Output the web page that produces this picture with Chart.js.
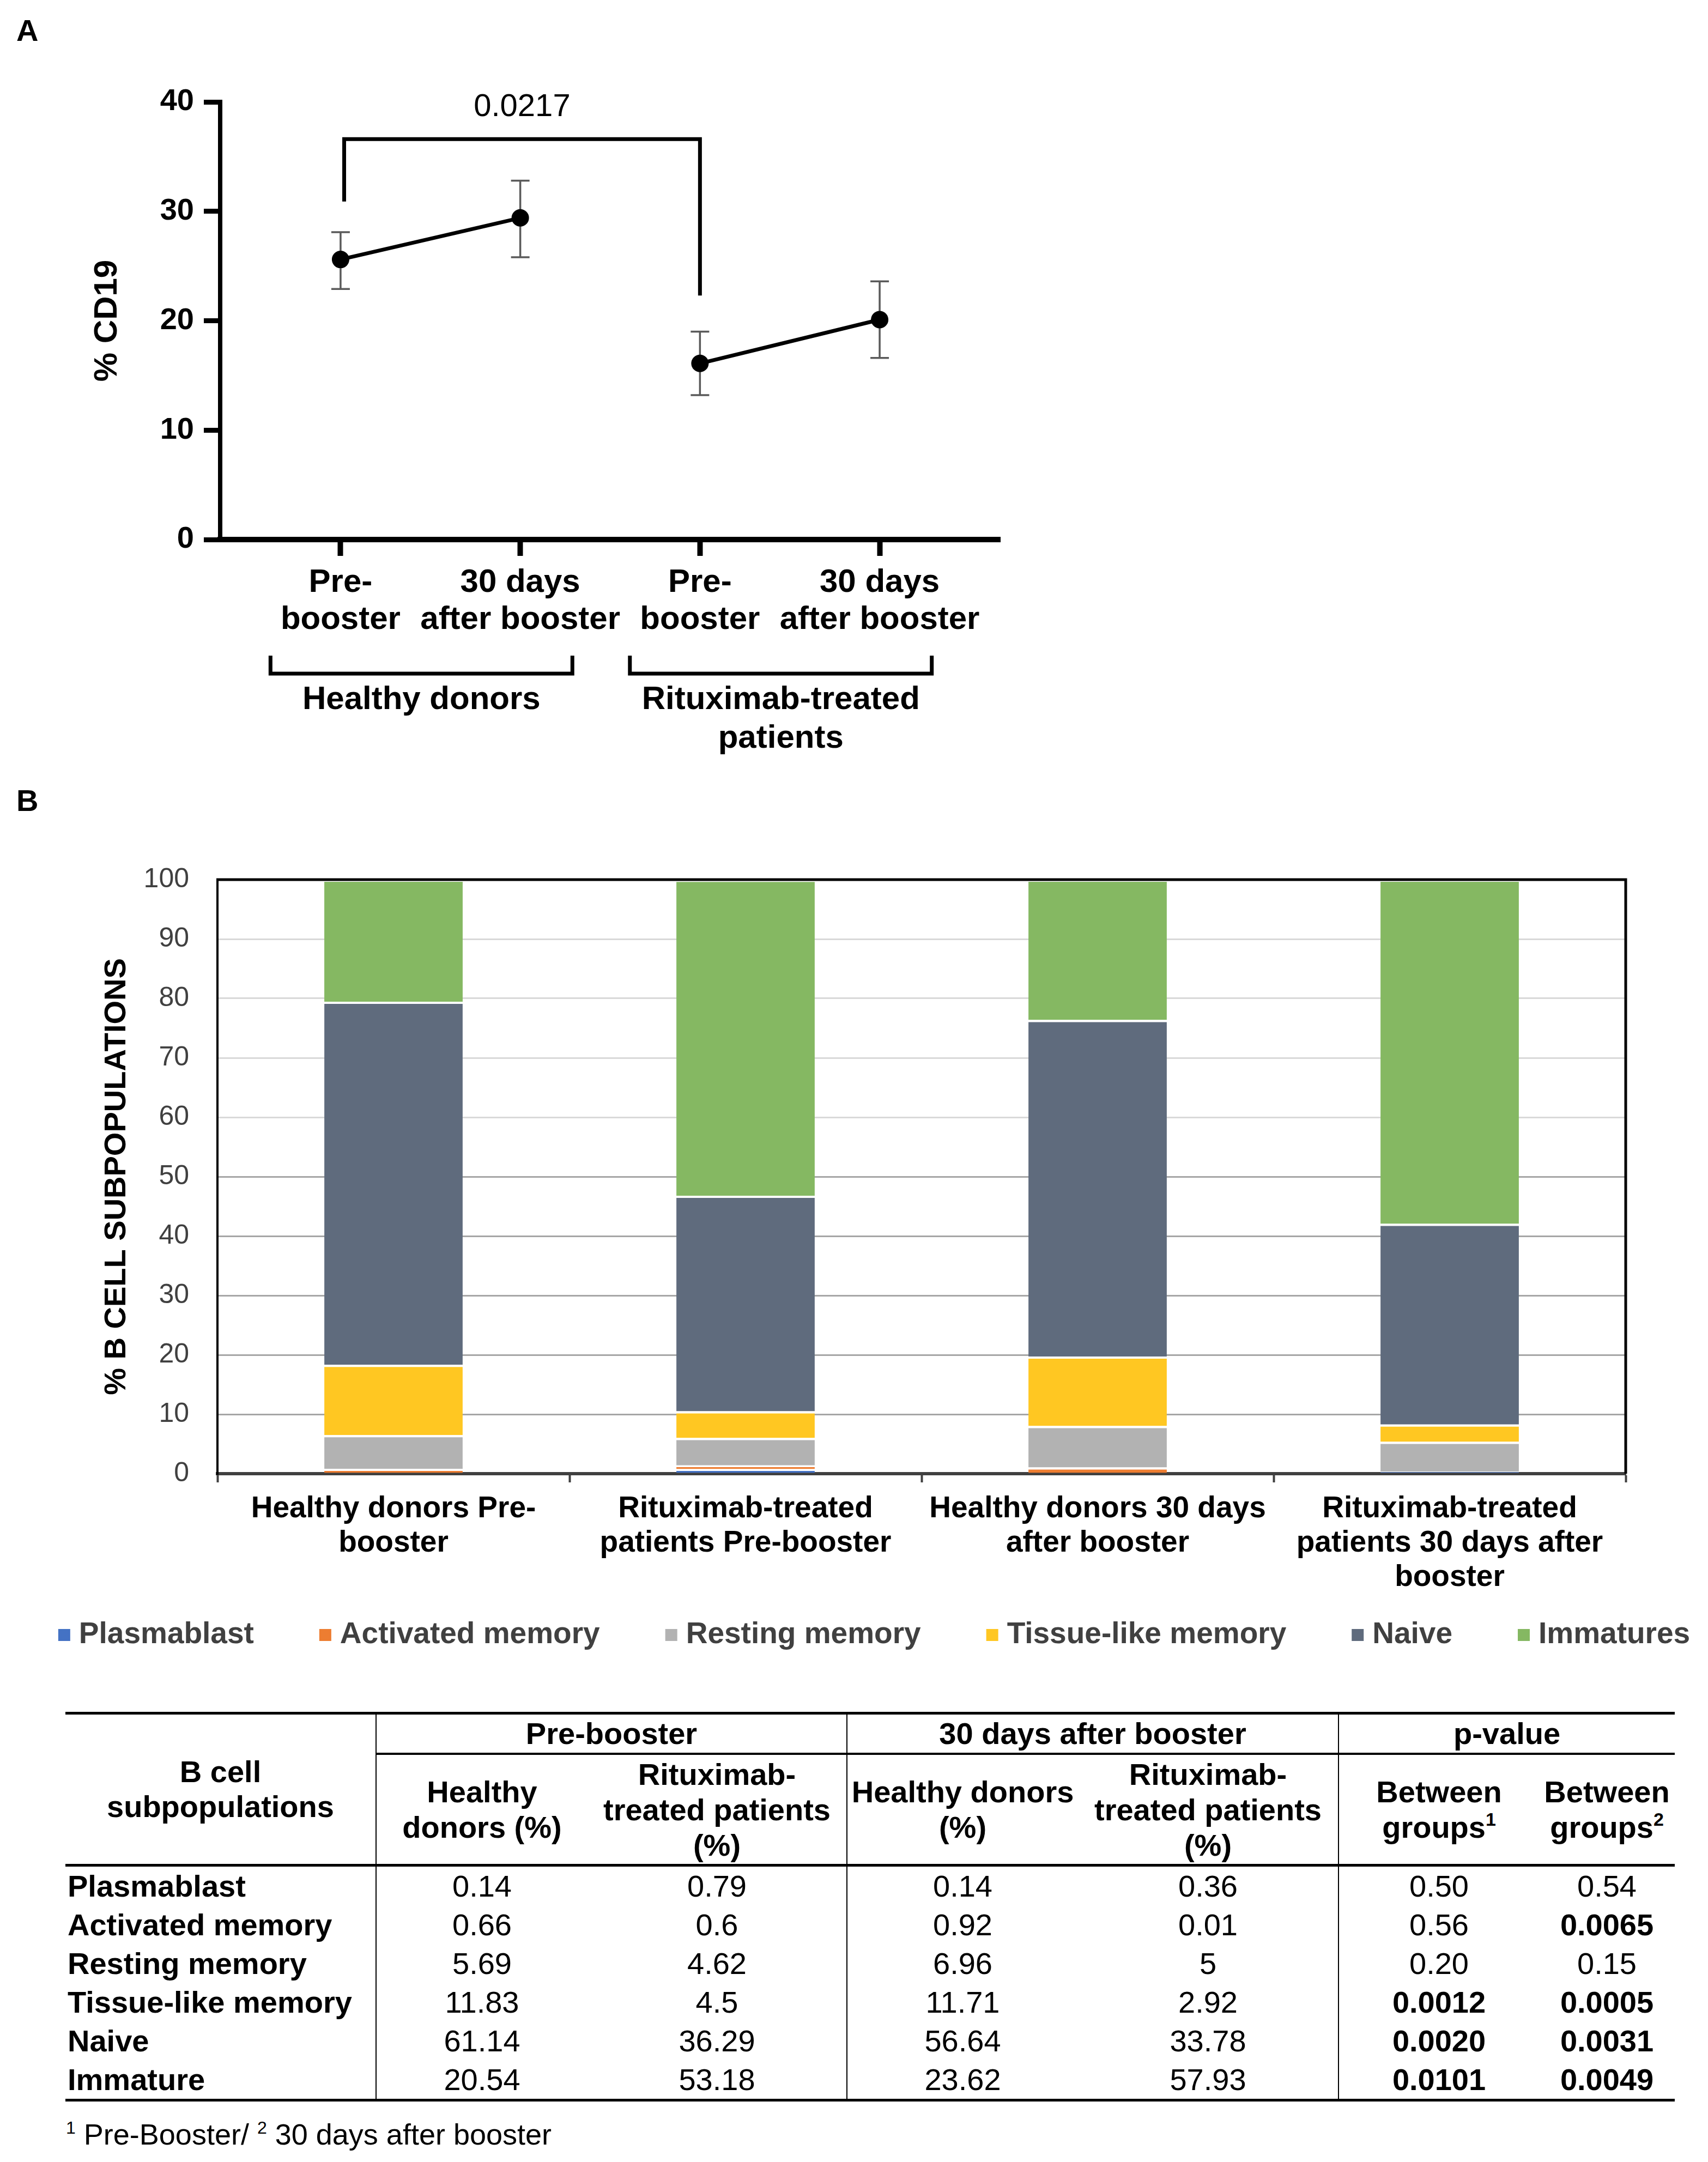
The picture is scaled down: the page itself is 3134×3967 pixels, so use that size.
<!DOCTYPE html>
<html>
<head>
<meta charset="utf-8">
<title>CD19 and B cell subpopulations</title>
<script src="https://cdn.jsdelivr.net/npm/chart.js@4.4.0/dist/chart.umd.min.js"></script>
<style>
  html, body { margin: 0; padding: 0; background: #fff; }
  body { width: 3134px; height: 3967px; position: relative; overflow: hidden; font-family: 'Liberation Sans', Arial, sans-serif; color: #000; }
  .panel-label { position: absolute; font-weight: bold; font-size: 56px; line-height: 1; }
  #chartA { position: absolute; left: 0; top: 0; }
  #chartB { position: absolute; left: 0; top: 1420px; }
  #subsetTable { position: absolute; left: 120px; top: 3141px; width: 2953px; border-collapse: collapse; table-layout: fixed; font-size: 56px; }
  #subsetTable th, #subsetTable td { padding: 0; text-align: center; vertical-align: middle; white-space: nowrap; }
  #subsetTable th { font-weight: bold; }
  #subsetTable tr.h1 th { height: 70px; line-height: 64px; border-top: 5px solid #000; }
  #subsetTable tr.h1 th.grp { border-bottom: 4px solid #000; }
  #subsetTable tr.h2 th { height: 200px; line-height: 65px; border-bottom: 5px solid #000; }
  #subsetTable th.rowhead { border-bottom: 5px solid #000; line-height: 65px; }
  #subsetTable td { height: 71px; line-height: 64px; }
  #subsetTable tbody tr:last-child td { border-bottom: 5px solid #000; }
  #subsetTable .vl { border-left: 2px solid #000; }
  #subsetTable td.lbl { text-align: left; font-weight: bold; padding-left: 4px; }
  #subsetTable sup { font-size: 34px; line-height: 0; vertical-align: 22px; }
  #footnote { position: absolute; left: 121px; top: 3884px; font-size: 54px; line-height: 64px; }
  #footnote sup { font-size: 32px; line-height: 0; vertical-align: 20px; }
</style>
</head>
<body>
<div class="panel-label" style="left:30px; top:28px;">A</div>
<canvas id="chartA" width="1900" height="1420"></canvas>
<div class="panel-label" style="left:30px; top:1441px;">B</div>
<canvas id="chartB" width="3134" height="1620"></canvas>
<table id="subsetTable"></table>
<div id="footnote"><sup>1</sup> Pre-Booster/ <sup>2</sup> 30 days after booster</div>

<script>
// Panel A data (% CD19, mean with error bar ends).
const timeLabels = [['Pre-', 'booster'], ['30 days', 'after booster'], ['Pre-', 'booster'], ['30 days', 'after booster']];
const groupNames = [['Healthy donors'], ['Rituximab-treated', 'patients']];
const cd19Healthy = [25.6, 29.4];
const cd19HealthyLow = [22.9, 25.8];
const cd19HealthyHigh = [28.1, 32.8];
const cd19Rituximab = [16.1, 20.1];
const cd19RituximabLow = [13.2, 16.6];
const cd19RituximabHigh = [19.0, 23.6];
const pValueBetween = '0.0217';

// Panel B data (% of B cells).
const barLabels = [
    ['Healthy donors Pre-', 'booster'],
    ['Rituximab-treated', 'patients Pre-booster'],
    ['Healthy donors 30 days', 'after booster'],
    ['Rituximab-treated', 'patients 30 days after', 'booster']
];
const subsetNames = ['Plasmablast', 'Activated memory', 'Resting memory', 'Tissue-like memory', 'Naive', 'Immatures'];
const plasmablast = [0.14, 0.79, 0.14, 0.36];
const activatedMemory = [0.66, 0.6, 0.92, 0.01];
const restingMemory = [5.69, 4.62, 6.96, 5];
const tissueLikeMemory = [11.83, 4.5, 11.71, 2.92];
const naive = [61.14, 36.29, 56.64, 33.78];
const immatures = [20.54, 53.18, 23.62, 57.93];

// Table p-values.
const tableRowNames = ['Plasmablast', 'Activated memory', 'Resting memory', 'Tissue-like memory', 'Naive', 'Immature'];
const pBetween1 = ['0.50', '0.56', '0.20', '0.0012', '0.0020', '0.0101'];
const pBetween2 = ['0.54', '0.0065', '0.15', '0.0005', '0.0031', '0.0049'];

const fontFamily = "'Liberation Sans', Arial, sans-serif";
Chart.defaults.font.family = fontFamily;
Chart.defaults.color = '#000';

// A plugin that draws the error bars under the points.
const errorBars = {
    id: 'errorBars',
    beforeDatasetsDraw(chart) {
        const {ctx, scales: {x, y}} = chart;
        ctx.save();
        ctx.strokeStyle = '#5a5a5a';
        ctx.lineWidth = 3.5;
        chart.data.datasets.forEach(ds => {
            ds.data.forEach((p, i) => {
                const px = x.getPixelForValue(p.x);
                const top = y.getPixelForValue(ds.errHigh[i]);
                const bot = y.getPixelForValue(ds.errLow[i]);
                ctx.beginPath();
                ctx.moveTo(px, top); ctx.lineTo(px, bot);
                ctx.moveTo(px - 17, top); ctx.lineTo(px + 17, top);
                ctx.moveTo(px - 17, bot); ctx.lineTo(px + 17, bot);
                ctx.stroke();
            });
        });
        ctx.restore();
    }
};

// A plugin that draws the p-value bracket and the group brackets.
const brackets = {
    id: 'brackets',
    afterDraw(chart) {
        const {ctx, chartArea, scales: {x, y}} = chart;
        ctx.save();
        ctx.strokeStyle = '#000';
        ctx.fillStyle = '#000';
        ctx.lineWidth = 7;

        // significance bracket
        const xl = x.getPixelForValue(0.02);
        const xr = x.getPixelForValue(2);
        const yb = y.getPixelForValue(36.6);
        ctx.beginPath();
        ctx.moveTo(xl, y.getPixelForValue(30.9));
        ctx.lineTo(xl, yb);
        ctx.lineTo(xr, yb);
        ctx.lineTo(xr, y.getPixelForValue(22.3));
        ctx.stroke();
        ctx.font = '58px ' + fontFamily;
        ctx.textAlign = 'center';
        ctx.textBaseline = 'middle';
        ctx.fillText(pValueBetween, (xl + xr) / 2, y.getPixelForValue(39.5));

        // group brackets under the axis
        const tipY = chartArea.bottom + 213;
        const barY = chartArea.bottom + 246;
        ctx.font = 'bold 60px ' + fontFamily;
        groupNames.forEach((name, g) => {
            const a = x.getPixelForValue(g * 2 - 0.39);
            const b = x.getPixelForValue(g * 2 + 1.29);
            ctx.beginPath();
            ctx.moveTo(a, tipY);
            ctx.lineTo(a, barY);
            ctx.lineTo(b, barY);
            ctx.lineTo(b, tipY);
            ctx.stroke();
            name.forEach((line, k) => {
                ctx.fillText(line, (a + b) / 2, chartArea.bottom + 294 + k * 71);
            });
        });
        ctx.restore();
    }
};

new Chart(document.querySelector('#chartA'), {
    type: 'line',
    data: {
        datasets: [
            {
                label: 'Healthy donors',
                data: cd19Healthy.map((v, i) => ({x: i, y: v})),
                errLow: cd19HealthyLow,
                errHigh: cd19HealthyHigh
            },
            {
                label: 'Rituximab-treated patients',
                data: cd19Rituximab.map((v, i) => ({x: i + 2, y: v})),
                errLow: cd19RituximabLow,
                errHigh: cd19RituximabHigh
            }
        ]
    },
    options: {
        responsive: false,
        animation: false,
        devicePixelRatio: 1,
        layout: {padding: {left: 0, top: 187, right: 65, bottom: 0}},
        elements: {
            line: {borderColor: '#000', borderWidth: 7, tension: 0},
            point: {radius: 16, backgroundColor: '#000', borderColor: '#000', borderWidth: 0}
        },
        plugins: {legend: {display: false}, tooltip: {enabled: false}},
        scales: {
            x: {
                type: 'linear',
                min: -0.67,
                max: 3.67,
                afterBuildTicks: s => { s.ticks = timeLabels.map((_, i) => ({value: i})); },
                afterFit: s => { s.height = 430; },
                ticks: {
                    autoSkip: false,
                    maxRotation: 0,
                    minRotation: 0,
                    padding: 16,
                    color: '#000',
                    font: {size: 60, weight: 'bold', lineHeight: 1.13},
                    callback: v => timeLabels[v]
                },
                grid: {drawOnChartArea: false, tickLength: 30, tickWidth: 10, tickColor: '#000'},
                border: {display: true, color: '#000', width: 10}
            },
            y: {
                min: 0,
                max: 40,
                afterFit: s => { s.width = 404; },
                ticks: {stepSize: 10, padding: 18, color: '#000', font: {size: 56, weight: 'bold'}},
                grid: {drawOnChartArea: false, tickLength: 30, tickWidth: 9, tickColor: '#000'},
                border: {display: true, color: '#000', width: 8},
                title: {
                    display: true,
                    text: '% CD19',
                    color: '#000',
                    font: {size: 60, weight: 'bold', lineHeight: 1},
                    padding: {top: 167, bottom: 0}
                }
            }
        }
    },
    plugins: [errorBars, brackets]
});

// Panel B: stacked bars.
const subsetValues = [plasmablast, activatedMemory, restingMemory, tissueLikeMemory, naive, immatures];
const subsetColors = ['#4472C4', '#ED7D31', '#B2B2B2', '#FFC722', '#5F6B7D', '#85B862'];

// A plugin that closes the plot frame at the top and right.
const frameB = {
    id: 'frameB',
    afterDraw(chart) {
        const {ctx, chartArea: {left, right, top, bottom}} = chart;
        ctx.save();
        ctx.strokeStyle = '#000';
        ctx.lineWidth = 5;
        ctx.beginPath();
        ctx.moveTo(left - 2, top);
        ctx.lineTo(right, top);
        ctx.lineTo(right, bottom);
        ctx.stroke();
        ctx.restore();
    }
};

// A plugin that draws the legend in one row under the axis labels.
const legendRow = {
    id: 'legendRow',
    afterDraw(chart, args, opts) {
        const {ctx, chartArea} = chart;
        const box = 22, textGap = 16, itemGap = 120;
        ctx.save();
        ctx.font = 'bold 55px ' + fontFamily;
        ctx.textBaseline = 'middle';
        ctx.textAlign = 'left';
        const items = chart.data.datasets.map(ds => ({
            text: ds.label,
            color: ds.backgroundColor,
            width: box + textGap + ctx.measureText(ds.label).width
        }));
        const total = items.reduce((s, it) => s + it.width, 0) + itemGap * (items.length - 1);
        let x = opts.centerX - total / 2;
        const cy = chartArea.bottom + opts.offsetY;
        items.forEach(it => {
            ctx.fillStyle = it.color;
            ctx.fillRect(x, cy - box / 2, box, box);
            ctx.fillStyle = '#404040';
            ctx.fillText(it.text, x + box + textGap, cy);
            x += it.width + itemGap;
        });
        ctx.restore();
    }
};

new Chart(document.querySelector('#chartB'), {
    type: 'bar',
    data: {
        labels: barLabels,
        datasets: subsetNames.map((name, i) => ({
            label: name,
            data: subsetValues[i],
            backgroundColor: subsetColors[i],
            borderColor: '#fff',
            borderWidth: {top: 4, right: 0, bottom: 0, left: 0},
            borderSkipped: false,
            categoryPercentage: 1,
            barPercentage: 0.393
        }))
    },
    options: {
        responsive: false,
        animation: false,
        devicePixelRatio: 1,
        layout: {padding: {left: 36, top: 194, right: 151, bottom: 0}},
        plugins: {
            tooltip: {enabled: false},
            legend: {display: false},
            legendRow: {centerX: 1604, offsetY: 296}
        },
        scales: {
            x: {
                stacked: true,
                afterFit: s => { s.height = 336; },
                ticks: {
                    autoSkip: false,
                    maxRotation: 0,
                    minRotation: 0,
                    padding: 17,
                    color: '#000',
                    font: {size: 55, weight: 'bold', lineHeight: 1.145}
                },
                grid: {offset: true, drawOnChartArea: false, tickLength: 16, tickWidth: 4, tickColor: '#404040'},
                border: {display: true, color: '#404040', width: 6}
            },
            y: {
                stacked: true,
                min: 0,
                max: 100,
                afterFit: s => { s.width = 363; },
                ticks: {stepSize: 10, padding: 52, color: '#404040', font: {size: 50}},
                grid: {
                    drawTicks: false,
                    lineWidth: 3,
                    color: c => (c.tick && c.tick.value >= 60 ? '#d9d9d9' : '#a6a6a6')
                },
                border: {display: true, color: '#000', width: 4},
                title: {
                    display: true,
                    text: '% B CELL SUBPOPULATIONS',
                    color: '#000',
                    font: {size: 56, weight: 'bold', lineHeight: 1},
                    padding: {top: 151, bottom: 0}
                }
            }
        }
    },
    plugins: [frameB, legendRow]
});

// Table of subpopulation values.
const isSignificant = p => Number(p) < 0.05;
const table = document.querySelector('#subsetTable');
let container = `
    <colgroup>
        <col style="width:570px"><col style="width:388px"><col style="width:476px">
        <col style="width:424px"><col style="width:478px"><col style="width:368px"><col style="width:249px">
    </colgroup>
    <thead>
        <tr class="h1">
            <th rowspan="2" class="rowhead">B cell<br>subpopulations</th>
            <th colspan="2" class="grp vl">Pre-booster</th>
            <th colspan="2" class="grp vl">30 days after booster</th>
            <th colspan="2" class="grp vl">p-value</th>
        </tr>
        <tr class="h2">
            <th class="vl">Healthy<br>donors (%)</th>
            <th>Rituximab-<br>treated patients<br>(%)</th>
            <th class="vl">Healthy donors<br>(%)</th>
            <th>Rituximab-<br>treated patients<br>(%)</th>
            <th class="vl">Between<br>groups<sup>1</sup></th>
            <th>Between<br>groups<sup>2</sup></th>
        </tr>
    </thead>
    <tbody>`;
tableRowNames.forEach((name, i) => {
    const v = subsetValues[i];
    const p1 = pBetween1[i];
    const p2 = pBetween2[i];
    container += `
        <tr>
            <td class="lbl">${name}</td>
            <td class="vl">${v[0]}</td>
            <td>${v[1]}</td>
            <td class="vl">${v[2]}</td>
            <td>${v[3]}</td>
            <td class="vl" style="font-weight:${isSignificant(p1) ? 'bold' : 'normal'}">${p1}</td>
            <td style="font-weight:${isSignificant(p2) ? 'bold' : 'normal'}">${p2}</td>
        </tr>`;
});
container += `</tbody>`;
table.innerHTML = container;
</script>
</body>
</html>
